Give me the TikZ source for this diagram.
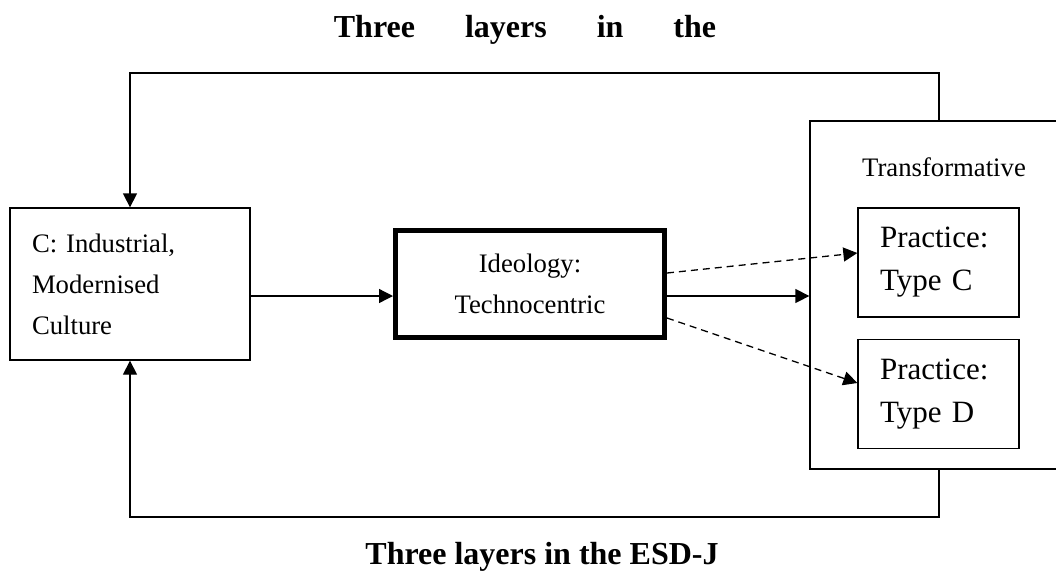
\documentclass[tikz,border=0pt]{standalone}
\usepackage{fontspec}
\setmainfont{Liberation Serif}
\usepackage{tikz}
\usetikzlibrary{arrows.meta, positioning, calc}

\begin{document}
\begin{tikzpicture}[%
  x=1pt, y=-1pt,%
  box/.style={rectangle, draw=black, line width=1.3pt, inner ysep=0pt, font=\fontsize{26.7}{41}\selectfont},%
  culturebox/.style={box, minimum width=240pt, minimum height=152pt, text width=196pt, inner xsep=22pt, align=left},%
  ideobox/.style={box, line width=5pt, minimum width=269pt, minimum height=107pt, align=center},%
  outerbox/.style={box, minimum width=258pt, minimum height=348pt},%
  practicebox/.style={box, minimum width=161pt, minimum height=109pt, text width=117pt, inner xsep=22pt, align=left, font=\fontsize{31}{43}\selectfont},%
  plaintext/.style={font=\fontsize{26.7}{32}\selectfont},%
  titletext/.style={font=\fontsize{32}{38}\selectfont\bfseries},%
  myarrow/.style={-{Triangle[length=14pt,width=14pt]}, line width=1.3pt},%
  dasharrow/.style={myarrow, dash pattern=on 7pt off 5pt}%
]
  \useasboundingbox (0,0) rectangle (1056,571);
  % titles
  \node[titletext] (head) at (525,30) {Three\hspace{50pt}layers\hspace{50pt}in\hspace{50pt}the};
  \node[titletext] (foot) at (542,557) {Three layers in the ESD-J};
  % boxes
  \node[culturebox] (cult) at (130,284) {C: Industrial,\\Modernised\\Culture};
  \node[ideobox] (ideo) at (530,284) {Ideology:\\Technocentric};
  \node[outerbox] (trans) at (939,295) {};
  \node[plaintext] (transl) at (944,167) {Transformative};
  \node[practicebox] (prc) at (938.5,262.5) {Practice:\\Type C};
  \node[practicebox] (prd) at (938.5,394) {Practice:\\Type D};
  % loops
  \coordinate (topturn) at (130,73);
  \coordinate (botturn) at (130,517);
  \draw[myarrow] (trans.north) |- (topturn) -- (cult.north);
  \draw[myarrow] (trans.south) |- (botturn) -- (cult.south);
  % flow
  \draw[myarrow] ([yshift=-12pt]cult.east) -- ([yshift=-12pt]ideo.west);
  \draw[myarrow] ([yshift=-12pt]ideo.east) -- ([yshift=-12pt]ideo.east -| trans.west);
  \draw[dasharrow] ([yshift=11pt]ideo.east) -- ([yshift=9.5pt]prc.west);
  \draw[dasharrow] ([yshift=-34pt]ideo.east) -- ([yshift=11pt]prd.west);
\end{tikzpicture}
\end{document}
